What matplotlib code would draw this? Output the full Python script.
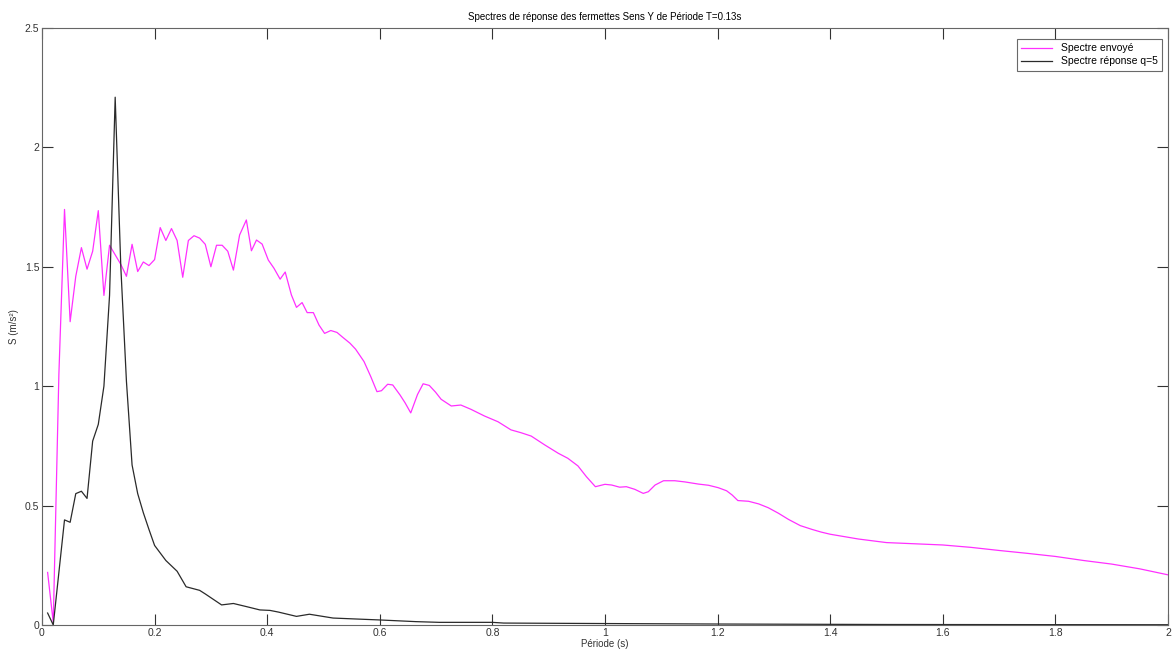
import matplotlib
matplotlib.use("Agg")
import matplotlib.pyplot as plt

plt.rcParams['font.family'] = ['Liberation Sans', 'DejaVu Sans']

# Spectre envoyé (magenta)
periode_env = [0.01, 0.02, 0.03, 0.04, 0.05, 0.06, 0.07, 0.08, 0.09, 0.10,
               0.11, 0.12, 0.13, 0.14, 0.15, 0.16, 0.17, 0.18, 0.19, 0.20,
               0.21, 0.22, 0.23, 0.24, 0.25, 0.26, 0.27, 0.28, 0.29, 0.30,
               0.31, 0.32, 0.33, 0.34, 0.351, 0.363, 0.372, 0.381, 0.391, 0.402,
               0.412, 0.423, 0.432, 0.443, 0.452, 0.462, 0.471, 0.482, 0.492, 0.502,
               0.513, 0.524, 0.534, 0.547, 0.557, 0.572, 0.584, 0.595, 0.603, 0.614,
               0.623, 0.636, 0.645, 0.655, 0.667, 0.677, 0.688, 0.699, 0.709, 0.727,
               0.744, 0.762, 0.786, 0.81, 0.833, 0.851, 0.869, 0.893, 0.917, 0.934,
               0.952, 0.967, 0.983, 1.0, 1.012, 1.026, 1.038, 1.053, 1.068, 1.077,
               1.089, 1.104, 1.124, 1.142, 1.166, 1.184, 1.201, 1.216, 1.226, 1.236,
               1.255, 1.273, 1.29, 1.308, 1.326, 1.347, 1.368, 1.384, 1.40, 1.45,
               1.50, 1.55, 1.60, 1.65, 1.70, 1.75, 1.80, 1.85, 1.90, 1.95, 2.0]
s_env = [0.22, 0.01, 1.05, 1.74, 1.27, 1.46, 1.58, 1.49, 1.565, 1.735,
         1.38, 1.59, 1.55, 1.51, 1.46, 1.594, 1.48, 1.52, 1.505, 1.53,
         1.664, 1.61, 1.66, 1.61, 1.456, 1.61, 1.63, 1.62, 1.594, 1.50,
         1.59, 1.59, 1.565, 1.486, 1.633, 1.696, 1.567, 1.612, 1.595, 1.528,
         1.494, 1.448, 1.478, 1.382, 1.33, 1.35, 1.308, 1.308, 1.256, 1.221,
         1.233, 1.225, 1.205, 1.18, 1.155, 1.103, 1.04, 0.977, 0.981, 1.008,
         1.005, 0.963, 0.93, 0.888, 0.965, 1.01, 1.003, 0.975, 0.945, 0.917,
         0.921, 0.903, 0.875, 0.851, 0.817, 0.805, 0.791, 0.754, 0.719, 0.698,
         0.666, 0.621, 0.579, 0.589, 0.586, 0.577, 0.579, 0.568, 0.551, 0.558,
         0.586, 0.604, 0.604, 0.599, 0.59, 0.585, 0.575, 0.562, 0.544, 0.521,
         0.518, 0.507, 0.491, 0.468, 0.442, 0.416, 0.40, 0.389, 0.38, 0.36,
         0.345, 0.34, 0.335, 0.325, 0.312, 0.30, 0.287, 0.27, 0.255, 0.235, 0.21]

# Spectre réponse q=5 (black)
periode_rep = [0.01, 0.02, 0.04, 0.05, 0.06, 0.07, 0.08, 0.09, 0.10, 0.11,
               0.12, 0.13, 0.14, 0.15, 0.16, 0.17, 0.18, 0.19, 0.20, 0.22,
               0.24, 0.256, 0.28, 0.29, 0.319, 0.34, 0.363, 0.387, 0.405, 0.42,
               0.452, 0.475, 0.517, 0.558, 0.60, 0.664, 0.706, 0.80, 0.82, 1.0,
               1.2, 1.5, 2.0]
s_rep = [0.05, 0.0, 0.44, 0.43, 0.55, 0.56, 0.53, 0.77, 0.84, 1.0,
         1.38, 2.21, 1.5, 1.02, 0.67, 0.55, 0.47, 0.40, 0.333, 0.27,
         0.225, 0.16, 0.145, 0.13, 0.084, 0.09, 0.077, 0.063, 0.061, 0.054,
         0.036, 0.045, 0.029, 0.025, 0.021, 0.014, 0.011, 0.011, 0.008, 0.006,
         0.004, 0.002, 0.001]

xticks = [0, 0.2, 0.4, 0.6, 0.8, 1, 1.2, 1.4, 1.6, 1.8, 2]
xtick_labels = ['0', '0.2', '0.4', '0.6', '0.8', '1', '1.2', '1.4', '1.6', '1.8', '2']
yticks = [0, 0.5, 1, 1.5, 2, 2.5]
ytick_labels = ['0', '0.5', '1', '1.5', '2', '2.5']

fig = plt.figure(figsize=(11.73, 6.5), dpi=100)
ax = fig.add_axes([0.0358, 0.0385, 0.9599, 0.9185])

ax.plot(periode_env, s_env, color='#ff30ff', lw=0.9, label='Spectre envoyé')
ax.plot(periode_rep, s_rep, color='#2a2a2a', lw=0.9, label='Spectre réponse q=5')

ax.set_xlim(0, 2)
ax.set_ylim(0, 2.5)
ax.set_xticks(xticks)
ax.set_xticklabels(xtick_labels)
ax.set_yticks(yticks)
ax.set_yticklabels(ytick_labels)
ax.tick_params(direction='in', length=8, width=0.8, top=True, right=True,
               labelsize=7.5, labelcolor='#333333', color='#333333', pad=2)
for sp in ax.spines.values():
    sp.set_color('#666666')
    sp.set_linewidth(0.8)

ax.set_title('Spectres de réponse des fermettes Sens Y de Période T=0.13s', fontsize=7, pad=6)
ax.set_xlabel('Période (s)', fontsize=7, labelpad=1, color='#333333')
ax.set_ylabel('S (m/s²)', fontsize=7, labelpad=4, color='#333333')

leg = ax.legend(loc='upper right', fontsize=7.5, frameon=True, fancybox=False,
                handlelength=3, borderpad=0.4, labelspacing=0.3,
                bbox_to_anchor=(0.999, 0.99))
leg.get_frame().set_edgecolor('#444444')
leg.get_frame().set_linewidth(0.8)

fig.savefig('out.png', dpi=100)
